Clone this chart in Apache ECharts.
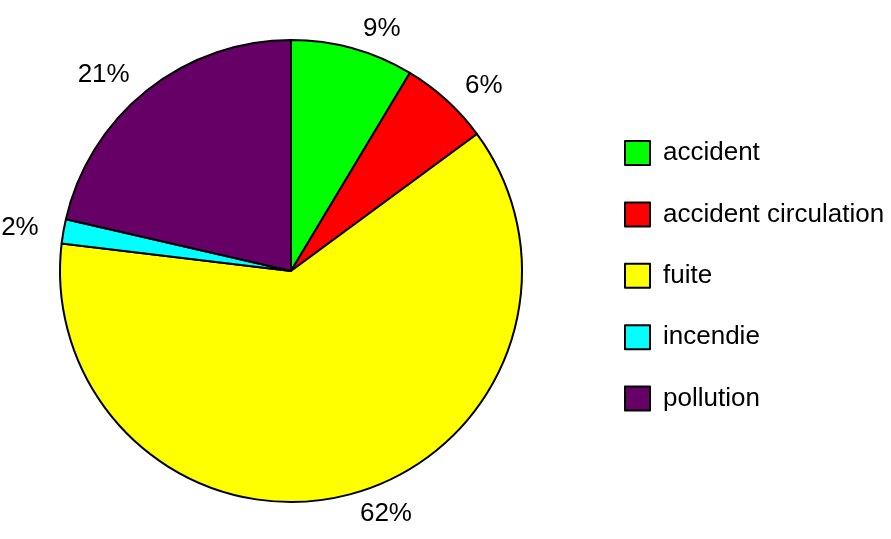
<!DOCTYPE html>
<html>
<head>
<meta charset="utf-8">
<script src="https://cdn.jsdelivr.net/npm/echarts@6/dist/echarts.min.js"></script>
<style>
  html, body { margin: 0; padding: 0; background: #fff; }
  #chart { width: 891px; height: 539px; }
</style>
</head>
<body>
<div id="chart"></div>
<script>
const categories = ["accident", "accident circulation", "fuite", "incendie", "pollution"];
const values = [8.6, 6.3, 62.0, 1.7, 21.4];
const colors = ["#00ff00", "#ff0000", "#ffff00", "#00ffff", "#660066"];

const chart = echarts.init(document.getElementById("chart"), null, { renderer: "canvas" });
const font = "Liberation Sans, Arial, sans-serif";

chart.setOption({
  animation: false,
  legend: {
    orient: "vertical",
    left: 619,
    top: 135,
    icon: "rect",
    itemWidth: 25,
    itemHeight: 24,
    itemGap: 35.4,
    textStyle: { fontFamily: font, fontSize: 26, lineHeight: 24, color: "#000", padding: [0, 0, 0, 8] },
    data: categories
  },
  series: [{
    type: "pie",
    center: [291, 271],
    radius: 231,
    startAngle: 90,
    clockwise: true,
    data: categories.map((name, i) => ({ name, value: values[i], itemStyle: { color: colors[i] } })),
    itemStyle: { borderColor: "#000", borderWidth: 2 },
    label: {
      show: true,
      position: "outside",
      fontFamily: font,
      fontSize: 26,
      color: "#000",
      overflow: "none",
      edgeDistance: 10,
      formatter: p => Math.round(p.percent) + "%"
    },
    labelLine: { show: false, length: 20, length2: 0 },
    emphasis: { disabled: true }
  }]
});
</script>
</body>
</html>
